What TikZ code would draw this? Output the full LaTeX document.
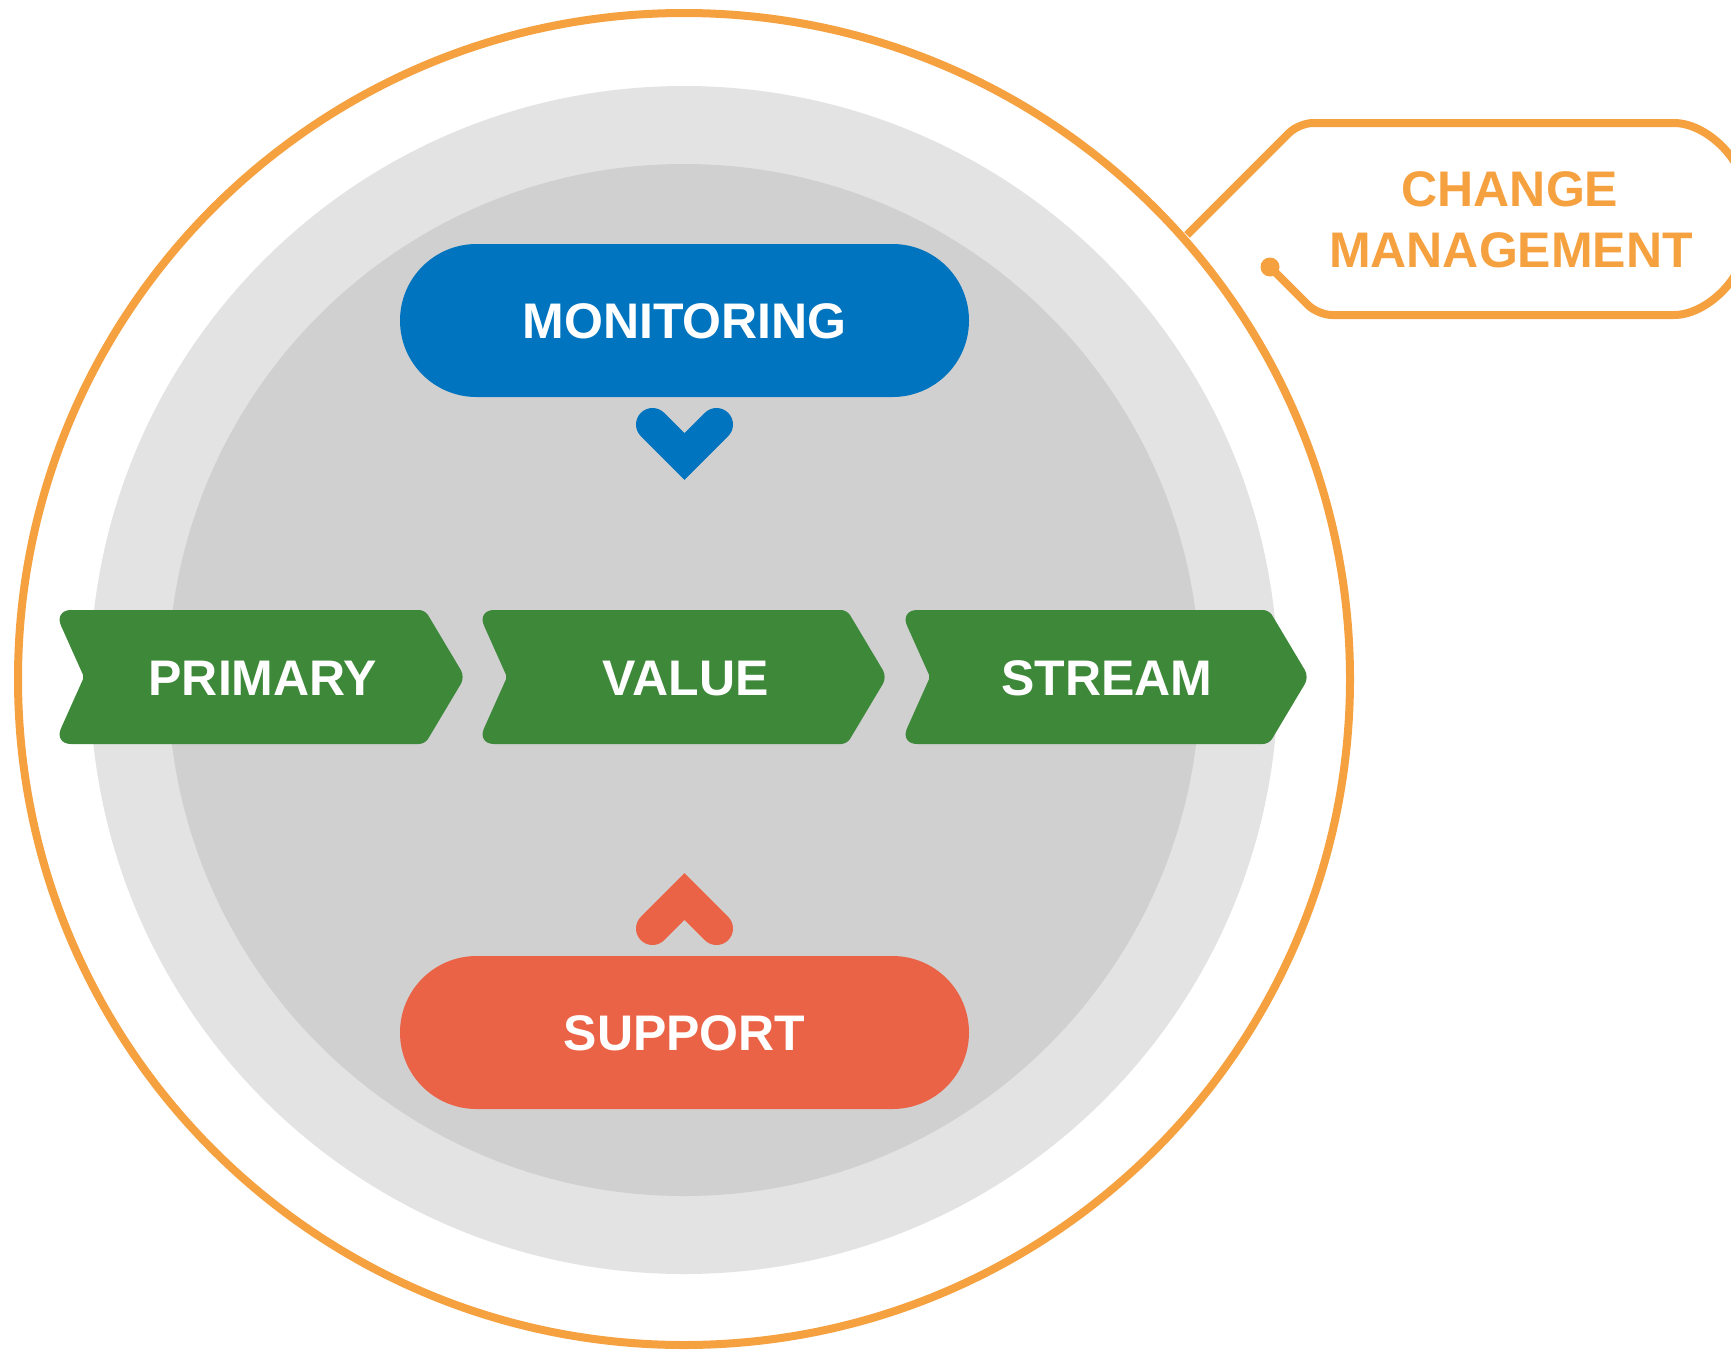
\documentclass[tikz,border=0pt]{standalone}
\usepackage{fontspec}
\setmainfont{Liberation Sans}
\usetikzlibrary{shapes.misc}
\definecolor{ringorange}{HTML}{F6A140}
\definecolor{lightring}{HTML}{E3E3E3}
\definecolor{innerdisc}{HTML}{D0D0D0}
\definecolor{monblue}{HTML}{0074BE}
\definecolor{suppred}{HTML}{EB6346}
\definecolor{streamgreen}{HTML}{3E883A}
\begin{document}
\begin{tikzpicture}[x=1pt,y=-1pt,
  captext/.style={font=\bfseries\fontsize{50}{60}\selectfont, text height=36.5pt, text depth=0pt, inner sep=0pt},
  pill/.style={rounded rectangle, minimum width=569pt, minimum height=153pt, inner sep=0pt, text=white, captext},
  chevron/.style={line width=33pt, line cap=round, miter limit=10},
  ring/.style={ringorange, line width=8pt}]
\useasboundingbox (0,0) rectangle (1731,1349);
\fill[white] (0,0) rectangle (1731,1349);

% concentric discs and the outer ring
\fill[lightring] (684,680) circle (594);
\fill[innerdisc] (684,680) circle (516);
\draw[ring] (684,679) circle (666);

% change management tag
\coordinate (cmjoin) at (1187,235);
\coordinate (cmdot) at (1270,267);
\draw[ring, rounded corners=14pt] (cmjoin) -- (1299,123) -- (1660,123) arc (-90:0:85) -- (1745,230) arc (0:90:85) -- (1318,315) -- (cmdot);
\fill[ringorange] (cmdot) circle (9.5);
\node[captext, text=ringorange] (cmA) at (1510,188.3) {CHANGE};
\node[captext, text=ringorange] (cmB) at (1511,249) {MANAGEMENT};

% monitoring and support pills
\node[pill, fill=monblue] (mon) at (684.5,320.5) {MONITORING};
\node[pill, fill=suppred] (sup) at (684.5,1032.5) {SUPPORT};

% chevrons pointing to the value stream
\draw[chevron, monblue] (652.5,424.5) -- (684.5,456.5) -- (716.5,424.5);
\draw[chevron, suppred] (652.5,928.5) -- (684.5,896.5) -- (716.5,928.5);

% value stream arrows: each rounding option sets the corner reached by the next segment
\fill[streamgreen] (425,610) [rounded corners=8pt] -- (465,677) [rounded corners=6pt] -- (425,744) [rounded corners=17pt] -- (54,744) [rounded corners=2pt] -- (84,677) [rounded corners=17pt] -- (54,610) [rounded corners=6pt] -- cycle;
\fill[streamgreen] (847,610) [rounded corners=8pt] -- (887,677) [rounded corners=6pt] -- (847,744) [rounded corners=17pt] -- (477,744) [rounded corners=2pt] -- (507,677) [rounded corners=17pt] -- (477,610) [rounded corners=6pt] -- cycle;
\fill[streamgreen] (1269,610) [rounded corners=8pt] -- (1309,677) [rounded corners=6pt] -- (1269,744) [rounded corners=17pt] -- (900,744) [rounded corners=2pt] -- (930,677) [rounded corners=17pt] -- (900,610) [rounded corners=6pt] -- cycle;
\node[captext, text=white] (prim) at (263,677) {PRIMARY};
\node[captext, text=white] (val) at (685.6,677) {VALUE};
\node[captext, text=white] (strm) at (1107,677) {STREAM};
\end{tikzpicture}
\end{document}
